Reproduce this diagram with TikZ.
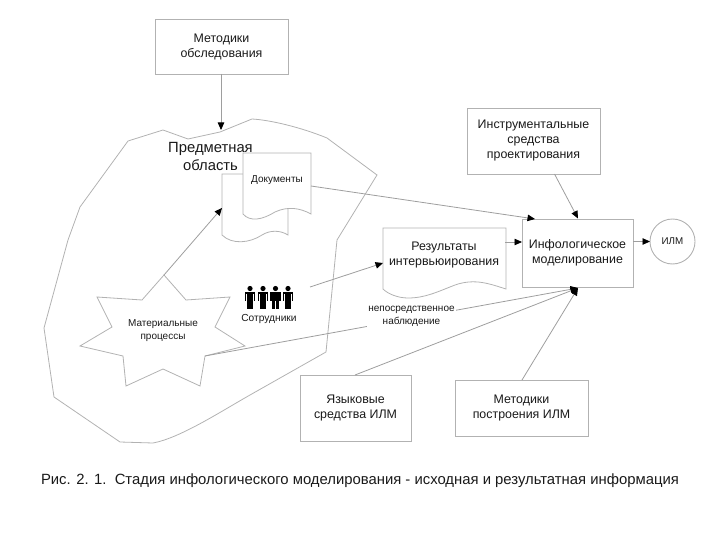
\documentclass[tikz,border=0pt]{standalone}
\usepackage{fontspec}
\setmainfont{Liberation Sans}
\usetikzlibrary{arrows.meta}
\definecolor{ln}{gray}{0.7}
\definecolor{lnd}{gray}{0.62}
\tikzset{
  every node/.style={inner sep=0pt,outer sep=0pt,align=center,text=black!90},
  boxn/.style={draw=ln,line width=0.9pt,font=\fontsize{12.4}{15}\selectfont},
  shp/.style={draw=ln,line width=0.8pt},
  conn/.style={draw=lnd,line width=0.8pt,-{Triangle[length=7.5pt,width=6.5pt,color=black,fill=black]}},
  lab/.style={font=\fontsize{12.4}{15}\selectfont},
  small/.style={font=\fontsize{10}{12.5}\selectfont},
}
\begin{document}
\begin{tikzpicture}[x=1pt,y=-1pt]
\useasboundingbox (0,0) rectangle (720,540);
% subject area outline
\draw[shp] (128,141) -- (163,130) -- (188,139) -- (220,132) -- (252,119)
  .. controls (270,120) and (300,127) .. (327,138) -- (377,175) -- (337,240) -- (326,352) -- (250,395)
  .. controls (220,412) and (180,438) .. (153,443) -- (120,442) -- (54,397) -- (44,328) -- (68,240) -- (80,207) -- cycle;
% star
\draw[shp] (97,297) -- (142,300) -- (164,275) -- (186,300) -- (230,297) -- (215,327) -- (245,346) -- (205,356) -- (200,386) -- (163,369) -- (126,386) -- (123,356) -- (80,346) -- (112,327) -- cycle;
\coordinate (startop) at (164,275);
\coordinate (starright) at (205,356);
\node[small] (mat) at (163,330.5) {Материальные\\процессы};
% boxes
\node[boxn,minimum width=133pt,minimum height=55pt] (met) at (221.5,46.5) {Методики\\обследования};
\node[boxn,minimum width=133pt,minimum height=66pt] (instr) at (533.5,141) {Инструментальные\\средства\\проектирования};
\node[boxn,minimum width=111pt,minimum height=68pt] (info) at (577.5,253) {Инфологическое\\моделирование};
\node[boxn,circle,minimum size=45pt,font=\fontsize{9.8}{12}\selectfont] (ilm) at (672.5,241.5) {ИЛМ};
\node[boxn,minimum width=111pt,minimum height=66pt] (lang) at (355.5,408) {Языковые\\средства ИЛМ};
\node[boxn,minimum width=133pt,minimum height=56pt] (mpost) at (521.5,408) {Методики\\построения ИЛМ};
% documents
\draw[shp,fill=white] (243,174) -- (222,174) -- (222,235) .. controls (232,245) and (250,243) .. (262,235) .. controls (270,230) and (280,230) .. (288,235) -- (288,205);
\draw[shp,fill=white] (243,153) -- (311,153) -- (311,214) .. controls (300,208) and (288,206) .. (275,212) .. controls (262,220) and (250,222) .. (243,214) -- cycle;
\node[small] (doc) at (277,180) {Документы};
\node[font=\fontsize{14.8}{18}\selectfont] (pred) at (210.5,156) {Предметная\\область};
\coordinate (backdoc) at (222,208);
% interview results
\draw[shp] (383,228) -- (506,228) -- (506,289) .. controls (490,284) and (475,278) .. (455,285) .. controls (437,292) and (425,298) .. (408,298) .. controls (398,298) and (388,294) .. (383,289) -- cycle;
\node[lab] (res) at (444,255) {Результаты\\интервьюирования};
\coordinate (resr) at (505,242);
\coordinate (resl) at (383,263);
% employees
\foreach \x in {250,263,275.5,288}{
  \fill[black] (\x,288.5) circle (2.6);
  \fill[black] (\x-5.2,291.5) rectangle (\x+5.2,294);
  \fill[black] (\x-5.2,291.5) rectangle (\x-3.9,301);
  \fill[black] (\x+3.9,291.5) rectangle (\x+5.2,301);
  \fill[black] (\x-3.2,291.5) rectangle (\x+3.2,301);
  \fill[black] (\x-3.2,300) rectangle (\x-0.3,308.5);
  \fill[black] (\x+0.3,300) rectangle (\x+3.2,308.5);
}
\node[small,font=\fontsize{10.2}{12}\selectfont] (sotr) at (269,319) {Сотрудники};
\coordinate (sotrr) at (310,287);
% connectors
\coordinate (blobtop) at (221,130);
\coordinate (docr) at (311,186);
\coordinate (infoT) at (535,219);
\coordinate (infoI) at (578,218.5);
\coordinate (infoC) at (578,288);
\coordinate (langt) at (355,375);
\coordinate (mpt) at (522,380);
\draw[conn] (met.south -| blobtop) -- (blobtop);
\draw[conn] (startop) -- (backdoc);
\draw[conn] (docr) -- (infoT);
\draw[conn] (sotrr) -- (resl);
\draw[conn] (resr) -- (info.west |- resr);
\draw[conn] (info.east |- ilm.west) -- (ilm.west);
\draw[conn] ([xshift=21pt]instr.south) -- (infoI);
\draw[conn] (starright) -- (infoC);
\draw[conn] (langt) -- (infoC);
\draw[conn] (mpt) -- (infoC);
\node[small,fill=white,inner sep=1pt] (nabl) at (411.5,316.5) {непосредственное\\наблюдение};
\node[font=\fontsize{14.85}{16}\selectfont,anchor=west] (cap) at (41,481) {Рис. 2. 1.\ \ Стадия инфологического моделирования - исходная и результатная информация};
\end{tikzpicture}
\end{document}
